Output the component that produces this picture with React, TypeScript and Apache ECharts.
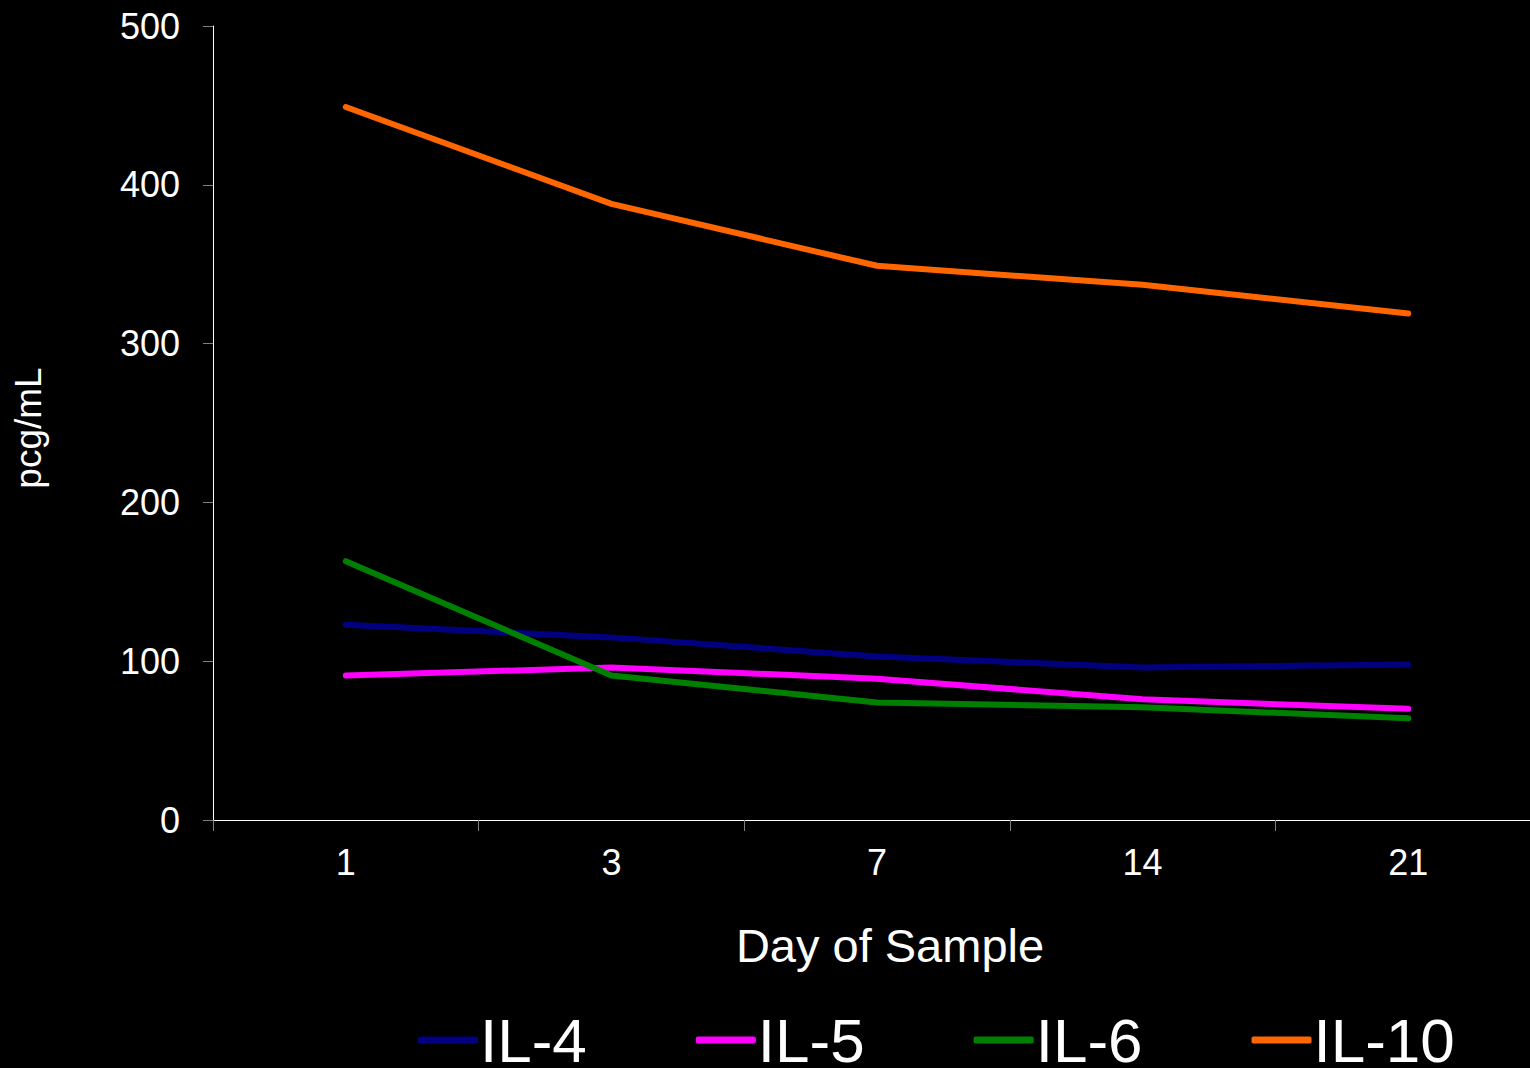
import React, { useEffect, useRef } from "react";
import * as echarts from "echarts";

const days = ["1", "3", "7", "14", "21"];
const il4 = [123, 115, 103, 96, 98];
const il5 = [91, 96, 89, 76, 70];
const il6 = [163, 91, 74, 71, 64];
const il10 = [449, 388, 349, 337, 319];
const seriesNames = ["IL-4", "IL-5", "IL-6", "IL-10"];
const seriesColors = ["#000080", "#FF00FF", "#008000", "#FF6600"];

const FONT = "'Liberation Sans', Arial, sans-serif";

export default function App() {
  const ref = useRef<HTMLDivElement>(null);
  useEffect(() => {
    if (!ref.current) return;
    const chart = echarts.init(ref.current, undefined, { renderer: "svg" });
    const dataSets = [il4, il5, il6, il10];
    chart.setOption({
      animation: false,
      backgroundColor: "#000000",
      textStyle: { fontFamily: FONT },
      grid: { left: 213, top: 26, width: 1328, height: 794 },
      legend: {
        data: seriesNames,
        left: 418,
        top: 1009,
        padding: 0,
        itemWidth: 60,
        itemHeight: 7,
        itemGap: 109,
        icon: "roundRect",
        textStyle: { color: "#ffffff", fontSize: 62, fontFamily: FONT, padding: [0, 0, 0, -3] },
      },
      xAxis: {
        type: "category",
        data: days,
        boundaryGap: true,
        name: "Day of Sample",
        nameLocation: "middle",
        nameGap: 102,
        nameTextStyle: { color: "#ffffff", fontSize: 47, fontFamily: FONT, padding: [0, 0, 0, 26] },
        axisLine: { show: true, lineStyle: { color: "#ffffff", width: 1 } },
        axisTick: { show: true, length: 11, lineStyle: { color: "#808080", width: 1 } },
        axisLabel: { color: "#ffffff", fontSize: 36, margin: 24, fontFamily: FONT },
        splitLine: { show: false },
      },
      yAxis: {
        type: "value",
        min: 0,
        max: 500,
        interval: 100,
        name: "pcg/mL",
        nameLocation: "middle",
        nameGap: 166,
        nameRotate: 90,
        nameTextStyle: { color: "#ffffff", fontSize: 37, fontFamily: FONT, padding: [0, 10, 0, 0] },
        axisLine: { show: true, lineStyle: { color: "#ffffff", width: 1 } },
        axisTick: { show: true, length: 10, lineStyle: { color: "#808080", width: 1 } },
        axisLabel: { color: "#ffffff", fontSize: 36, margin: 33, fontFamily: FONT },
        splitLine: { show: false },
      },
      series: seriesNames.map((n, i) => ({
        name: n,
        type: "line",
        data: dataSets[i],
        showSymbol: false,
        symbol: "none",
        color: seriesColors[i],
        lineStyle: { color: seriesColors[i], width: 6, cap: "round", join: "round" },
        itemStyle: { color: seriesColors[i] },
      })),
    });
    return () => chart.dispose();
  }, []);
  return (
    <div
      ref={ref}
      style={{ position: "fixed", left: 0, top: 0, width: 1560, height: 1068, background: "#000" }}
    />
  );
}
